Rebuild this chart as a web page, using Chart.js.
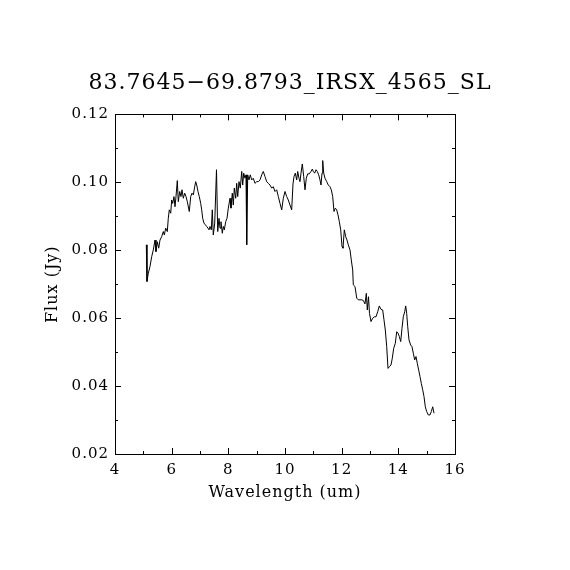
<!DOCTYPE html>
<html>
<head>
<meta charset="utf-8">
<script src="https://cdn.jsdelivr.net/npm/chart.js@4.4.1/dist/chart.umd.min.js"></script>
<style>
  html, body { margin: 0; padding: 0; background: #ffffff; }
  #c { display: block; }
</style>
</head>
<body>
<canvas id="c" width="570" height="570" style="width:570px;height:570px"></canvas>
<script>
// ---- data ----
const titleText = "83.7645\u221269.8793_IRSX_4565_SL";
const xLabel = "Wavelength (um)";
const yLabel = "Flux (Jy)";

const wavelength = [
  5.105, 5.129, 5.175, 5.235, 5.295, 5.352, 5.412, 5.447, 5.493, 5.542,
  5.588, 5.648, 5.705, 5.740, 5.789, 5.846, 5.881, 5.916, 5.966, 6.001,
  6.036, 6.082, 6.118, 6.153, 6.199, 6.234, 6.284, 6.329, 6.365, 6.411,
  6.460, 6.506, 6.552, 6.622, 6.672, 6.718, 6.764, 6.813, 6.848, 6.884,
  6.929, 6.975, 7.025, 7.060, 7.095, 7.141, 7.187, 7.236, 7.282, 7.318,
  7.353, 7.399, 7.434, 7.469, 7.519, 7.582, 7.625, 7.671, 7.706, 7.741,
  7.787, 7.822, 7.858, 7.907, 7.953, 7.999, 8.059, 8.094, 8.140, 8.175,
  8.211, 8.260, 8.295, 8.331, 8.376, 8.422, 8.472, 8.507, 8.542, 8.588,
  8.624, 8.648, 8.684, 8.729, 8.775, 8.825, 8.881, 8.941, 9.001, 9.058,
  9.118, 9.178, 9.234, 9.294, 9.354, 9.411, 9.471, 9.531, 9.587, 9.647,
  9.707, 9.764, 9.824, 9.884, 9.940, 10.000, 10.060, 10.116, 10.176, 10.236,
  10.282, 10.318, 10.364, 10.413, 10.448, 10.494, 10.529, 10.565, 10.611, 10.660,
  10.706, 10.752, 10.801, 10.858, 10.918, 10.964, 10.999, 11.048, 11.094, 11.140,
  11.189, 11.235, 11.271, 11.306, 11.331, 11.366, 11.412, 11.472, 11.528, 11.588,
  11.634, 11.684, 11.729, 11.775, 11.825, 11.871, 11.917, 11.966, 12.012, 12.047,
  12.093, 12.142, 12.188, 12.234, 12.294, 12.340, 12.389, 12.411, 12.471, 12.531,
  12.587, 12.647, 12.707, 12.764, 12.824, 12.870, 12.905, 12.947, 12.982, 13.035,
  13.095, 13.152, 13.212, 13.272, 13.328, 13.388, 13.448, 13.494, 13.540, 13.590,
  13.635, 13.681, 13.741, 13.787, 13.836, 13.893, 13.942, 13.988, 14.034, 14.084,
  14.129, 14.175, 14.225, 14.260, 14.295, 14.331, 14.376, 14.436, 14.482, 14.528,
  14.578, 14.624, 14.669, 14.719, 14.765, 14.811, 14.860, 14.906, 14.952, 15.001,
  15.058, 15.118, 15.164, 15.213, 15.259
];

const flux = [
  0.0816, 0.0708, 0.0732, 0.0752, 0.0781, 0.0801, 0.0830, 0.0796, 0.0825, 0.0806,
  0.0830, 0.0840, 0.0855, 0.0845, 0.0865, 0.0855, 0.0894, 0.0919, 0.0909, 0.0948,
  0.0938, 0.0958, 0.0928, 0.0958, 0.1005, 0.0943, 0.0973, 0.0958, 0.0978, 0.0953,
  0.0968, 0.0958, 0.0943, 0.0914, 0.0958, 0.0968, 0.0963, 0.0987, 0.1002, 0.0992,
  0.0973, 0.0958, 0.0938, 0.0919, 0.0894, 0.0880, 0.0875, 0.0870, 0.0865, 0.0860,
  0.0870, 0.0860, 0.0919, 0.0845, 0.0880, 0.1037, 0.0855, 0.0894, 0.0865, 0.0884,
  0.0850, 0.0870, 0.0860, 0.0884, 0.0894, 0.0924, 0.0953, 0.0924, 0.0968, 0.0933,
  0.0983, 0.0953, 0.0997, 0.0958, 0.1002, 0.0983, 0.1032, 0.0992, 0.1027, 0.1012,
  0.1022, 0.0816, 0.1022, 0.1007, 0.1022, 0.1007, 0.1012, 0.0997, 0.1002, 0.1002,
  0.1007, 0.1022, 0.1032, 0.1017, 0.1002, 0.0997, 0.0992, 0.0983, 0.0987, 0.0973,
  0.0978, 0.0958, 0.0938, 0.0919, 0.0953, 0.0973, 0.0958, 0.0948, 0.0933, 0.0919,
  0.0995, 0.1017, 0.1027, 0.1007, 0.1032, 0.1012, 0.1002, 0.1027, 0.1054, 0.1017,
  0.0978, 0.1012, 0.1025, 0.1025, 0.1032, 0.1039, 0.1032, 0.1027, 0.1037, 0.1032,
  0.1022, 0.1007, 0.0992, 0.1027, 0.1064, 0.1027, 0.1012, 0.1002, 0.0992, 0.0987,
  0.0978, 0.0958, 0.0914, 0.0924, 0.0919, 0.0904, 0.0884, 0.0860, 0.0811, 0.0806,
  0.0860, 0.0840, 0.0830, 0.0816, 0.0801, 0.0771, 0.0742, 0.0698, 0.0693, 0.0659,
  0.0654, 0.0654, 0.0654, 0.0652, 0.0642, 0.0673, 0.0624, 0.0663, 0.0614, 0.0590,
  0.0600, 0.0604, 0.0604, 0.0619, 0.0636, 0.0626, 0.0624, 0.0595, 0.0565, 0.0516,
  0.0452, 0.0457, 0.0462, 0.0482, 0.0511, 0.0526, 0.0560, 0.0556, 0.0546, 0.0531,
  0.0570, 0.0604, 0.0619, 0.0636, 0.0614, 0.0575, 0.0536, 0.0521, 0.0516, 0.0497,
  0.0477, 0.0487, 0.0467, 0.0447, 0.0428, 0.0408, 0.0389, 0.0369, 0.0339, 0.0325,
  0.0315, 0.0315, 0.0325, 0.0339, 0.0320
];

const xMin = 4, xMax = 16, xMajorStep = 2, xMinorStep = 1;
const yMin = 0.02, yMax = 0.12, yMajorStep = 0.02, yMinorStep = 0.01;

const points = wavelength.map((w, i) => ({ x: w, y: flux[i] }));

const FONT = "'DejaVu Serif', 'Liberation Serif', serif";

// slightly wider text spacing, like the plotting font of the reference
const spacingPlugin = {
  id: 'spacing',
  beforeLayout(chart) { chart.ctx.letterSpacing = '1px'; },
  beforeDraw(chart) { chart.ctx.letterSpacing = '1px'; }
};

// Frame with inward major/minor ticks on all four sides, placed via the scales
const framePlugin = {
  id: 'frameTicks',
  afterDraw(chart) {
    const { ctx, chartArea: a, scales } = chart;
    const xs = scales.x, ys = scales.y;
    ctx.save();
    ctx.strokeStyle = '#000';
    ctx.lineWidth = 1;
    ctx.strokeRect(Math.round(a.left) + 0.5, Math.round(a.top) + 0.5,
                   Math.round(a.right - a.left), Math.round(a.bottom - a.top));
    ctx.beginPath();
    const nx = Math.round((xMax - xMin) / xMinorStep);
    for (let i = 0; i <= nx; i++) {
      const v = xMin + i * xMinorStep;
      const major = Math.abs(((v - xMin) / xMajorStep) - Math.round((v - xMin) / xMajorStep)) < 1e-6;
      const len = major ? 6 : 3;
      const px = Math.round(xs.getPixelForValue(v)) + 0.5;
      ctx.moveTo(px, a.bottom); ctx.lineTo(px, a.bottom - len);
      ctx.moveTo(px, a.top); ctx.lineTo(px, a.top + len);
    }
    const ny = Math.round((yMax - yMin) / yMinorStep);
    for (let i = 0; i <= ny; i++) {
      const v = yMin + i * yMinorStep;
      const major = i % Math.round(yMajorStep / yMinorStep) === 0;
      const len = major ? 6 : 3;
      const py = Math.round(ys.getPixelForValue(v)) + 0.5;
      ctx.moveTo(a.left, py); ctx.lineTo(a.left + len, py);
      ctx.moveTo(a.right, py); ctx.lineTo(a.right - len, py);
    }
    ctx.stroke();
    ctx.restore();
  }
};

new Chart(document.getElementById('c'), {
  type: 'line',
  data: {
    datasets: [{
      data: points,
      borderColor: '#000000',
      borderWidth: 1,
      pointRadius: 0,
      tension: 0,
      fill: false
    }]
  },
  options: {
    responsive: false,
    animation: false,
    devicePixelRatio: 1,
    layout: { padding: { left: 10, right: 0, top: 0, bottom: 0 } },
    plugins: {
      legend: { display: false },
      tooltip: { enabled: false },
      title: {
        display: true,
        text: titleText,
        color: '#000',
        font: { family: FONT, size: 22, weight: 'normal', lineHeight: 1.2 },
        padding: { top: 70, bottom: 18 }
      }
    },
    scales: {
      x: {
        type: 'linear',
        position: 'bottom',
        min: xMin, max: xMax,
        afterFit(s) { s.height = 116; },
        grid: { display: false, drawTicks: false },
        border: { display: true, color: '#000' },
        ticks: {
          stepSize: xMajorStep,
          color: '#000',
          padding: 7,
          maxRotation: 0,
          font: { family: FONT, size: 15 }
        },
        title: {
          display: true,
          text: xLabel,
          color: '#000',
          font: { family: FONT, size: 16, lineHeight: 1.2 },
          padding: { top: 0, bottom: 68 }
        }
      },
      y: {
        type: 'linear',
        position: 'left',
        min: yMin, max: yMax,
        afterFit(s) { s.width = 105; },
        grid: { display: false, drawTicks: false },
        border: { display: true, color: '#000' },
        ticks: {
          stepSize: yMajorStep,
          color: '#000',
          padding: 6,
          font: { family: FONT, size: 15 },
          callback: v => Number(v).toFixed(2)
        },
        title: {
          display: true,
          text: yLabel,
          color: '#000',
          font: { family: FONT, size: 16, lineHeight: 1.2 },
          padding: { top: 33, bottom: 0 }
        }
      },
      yRight: {
        type: 'linear',
        position: 'right',
        min: yMin, max: yMax,
        afterFit(s) { s.width = 115; },
        grid: { display: false, drawTicks: false },
        border: { display: false },
        ticks: { display: false }
      }
    }
  },
  plugins: [spacingPlugin, framePlugin]
});
</script>
</body>
</html>
